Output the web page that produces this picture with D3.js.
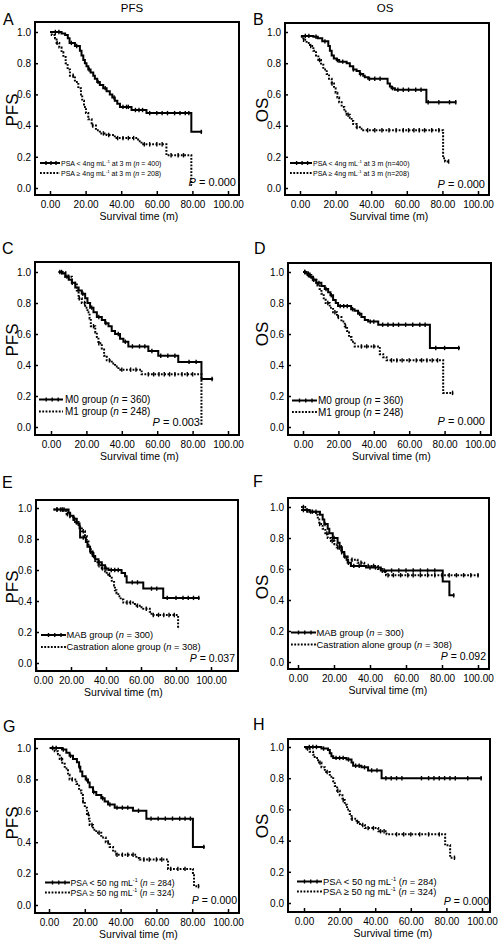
<!DOCTYPE html>
<html><head><meta charset="utf-8">
<script src="https://cdn.jsdelivr.net/npm/d3@7"></script>
<style>
body{margin:0;background:#fff}
svg{display:block}
text{font-family:"Liberation Sans",Arial,sans-serif;fill:#000}
</style>
</head><body>
<svg id="c" width="500" height="944"></svg>
<script>
// ---------- DATA (time in months, survival probability) ----------
const xTicks = [0, 20, 40, 60, 80, 100];
const yTicks = [0, 0.2, 0.4, 0.6, 0.8, 1.0];
const columnTitles = ["PFS", "OS"];
const panelIds = ["A","B","C","D","E","F","G","H"];
const yTitles = ["PFS","OS","PFS","OS","PFS","OS","PFS","OS"];
const pValues = ["0.000","0.000","0.003","0.000","0.037","0.092","0.000","0.000"];
const legendSolid = [
  "PSA < 4ng mL^{-1} at 3 m (_n_ = 400)", "PSA < 4ng mL^{-1} at 3 m (n=400)",
  "M0 group (_n_ = 360)", "M0 group (_n_ = 360)",
  "MAB group (_n_ = 300)", "MAB group (_n_ = 300)",
  "PSA < 50 ng mL^{-1} (_n_ = 284)", "PSA < 50 ng mL^{-1} (_n_ = 284)"];
const legendDotted = [
  "PSA ≥ 4ng mL^{-1} at 3 m (_n_ = 208)", "PSA ≥ 4ng mL^{-1} at 3 m (n=208)",
  "M1 group (_n_ = 248)", "M1 group (_n_ = 248)",
  "Castration alone group (_n_ = 308)", "Castration alone group (_n_ = 308)",
  "PSA ≥ 50 ng mL^{-1} (_n_ = 324)", "PSA ≥ 50 ng mL^{-1} (_n_ = 324)"];

// Step curves: [time, survival] (last pair = end of follow-up)
const A_solid = [[0,1.0],[6.5,0.99],[8.5,0.98],[10,0.96],[11,0.93],[14,0.91],[16.8,0.88],[17.7,0.85],[18.7,0.82],[19.6,0.80],[20.5,0.78],[21.5,0.76],[22.8,0.74],[24.3,0.72],[25.2,0.70],[26.5,0.68],[28,0.66],[29.9,0.64],[31.8,0.62],[33.6,0.60],[35,0.58],[36.4,0.56],[37.8,0.54],[39.3,0.52],[45.8,0.50],[54.2,0.48],[79.4,0.36],[85.5,0.36]];
const A_dotted = [[0,1.0],[1,0.98],[2.8,0.96],[3.7,0.93],[5.2,0.90],[6.5,0.87],[7.5,0.84],[8.8,0.80],[9.9,0.76],[11.2,0.72],[14,0.68],[15.9,0.64],[17.4,0.60],[18.1,0.56],[19.1,0.52],[20.2,0.48],[21.5,0.44],[23.4,0.40],[25.8,0.37],[28,0.35],[31.8,0.34],[36.4,0.32],[49.5,0.30],[51.4,0.28],[65.4,0.21],[79.4,0.02],[79.7,0.02]];
const B_solid = [[0.5,0.975],[7.5,0.97],[10,0.96],[12.5,0.94],[15.9,0.91],[16.8,0.88],[17.8,0.85],[19,0.83],[20.6,0.82],[22,0.81],[26.2,0.80],[28,0.78],[29.9,0.76],[31.8,0.75],[33.6,0.73],[35.5,0.72],[36.4,0.71],[38.3,0.70],[49.2,0.67],[50.5,0.65],[51.4,0.64],[53.3,0.63],[71,0.55],[87.9,0.55]];
const B_dotted = [[0.5,0.97],[1.9,0.95],[3.7,0.93],[5.6,0.91],[7.5,0.88],[9,0.85],[10.3,0.82],[11.8,0.79],[13.1,0.76],[15,0.73],[16.3,0.70],[17.8,0.67],[19.1,0.64],[20,0.61],[21,0.58],[22,0.55],[23.4,0.52],[24.9,0.49],[26.2,0.47],[28,0.45],[29,0.43],[29.9,0.41],[31.8,0.39],[33.6,0.38],[35.5,0.37],[80.4,0.19],[81.5,0.17],[84,0.17]];
const C_solid = [[4.3,1.0],[6.2,0.99],[8.1,0.97],[10,0.95],[11.8,0.93],[13.7,0.90],[15.6,0.88],[17.4,0.86],[19.3,0.83],[20.6,0.80],[22.1,0.77],[24,0.74],[25.9,0.71],[28.7,0.69],[30.6,0.67],[32.5,0.65],[34.3,0.62],[36.2,0.60],[39,0.57],[40.9,0.55],[43.7,0.52],[55,0.49],[60.6,0.46],[71.9,0.42],[85,0.31],[91.6,0.31]];
const C_dotted = [[4.3,1.0],[8.1,0.97],[11.8,0.93],[14.6,0.88],[15.6,0.83],[17.4,0.80],[19.3,0.77],[20.6,0.74],[21.8,0.70],[22.5,0.65],[25,0.61],[25.9,0.58],[26.8,0.54],[28.7,0.50],[30,0.46],[31.5,0.43],[34.3,0.41],[36.2,0.39],[38.1,0.37],[51.2,0.34],[85,0.01],[85.2,0.01]];
const D_solid = [[0,1.0],[1.9,0.99],[3.8,0.97],[5.7,0.95],[7.5,0.93],[10.4,0.91],[12.3,0.89],[14.2,0.87],[15.5,0.85],[17,0.82],[18.5,0.80],[19.8,0.78],[27.2,0.76],[29.1,0.75],[31.1,0.73],[33,0.71],[34.9,0.69],[36.8,0.68],[42.5,0.66],[71.7,0.51],[88.7,0.51]];
const D_dotted = [[0,1.0],[1.9,0.98],[4.7,0.95],[7.5,0.92],[9.4,0.89],[10.4,0.86],[11.7,0.83],[12.8,0.80],[15.1,0.77],[17,0.74],[19.2,0.71],[21.7,0.68],[23.6,0.65],[24.9,0.62],[26,0.58],[27.4,0.55],[29.2,0.52],[43.4,0.47],[45.3,0.45],[47.2,0.43],[79.2,0.22],[84.9,0.22]];
const E_solid = [[10,0.99],[18.6,0.97],[19.5,0.95],[21.4,0.93],[23.3,0.90],[24.9,0.87],[25.2,0.81],[28.5,0.78],[29.4,0.75],[30.9,0.72],[32.4,0.69],[33.8,0.67],[35.7,0.65],[37.6,0.63],[39.5,0.61],[41.4,0.60],[48.9,0.58],[50.9,0.56],[51.8,0.52],[61.3,0.48],[72.7,0.42],[93.5,0.42]];
const E_dotted = [[10,0.99],[15.6,0.98],[17.5,0.96],[19.5,0.94],[21.4,0.91],[24.3,0.88],[26.2,0.85],[28,0.82],[29,0.79],[30,0.75],[31.3,0.71],[32.8,0.68],[33.8,0.65],[35.7,0.63],[37.6,0.61],[39.5,0.59],[40.4,0.57],[42.3,0.55],[43.3,0.53],[44.6,0.50],[45.1,0.47],[46,0.45],[47,0.43],[48.4,0.41],[49.9,0.39],[56.5,0.37],[60.3,0.36],[61.3,0.35],[65,0.33],[66,0.31],[81.2,0.22],[81.4,0.22]];
const F_solid = [[1.7,0.98],[6.3,0.97],[12.2,0.95],[13.7,0.92],[14.6,0.89],[16.5,0.86],[17.4,0.83],[19.3,0.80],[22,0.77],[23.1,0.74],[24.4,0.71],[25.7,0.68],[27,0.66],[27.6,0.64],[29.4,0.62],[37.8,0.61],[46,0.59],[80.4,0.52],[84.1,0.43],[86.9,0.43]];
const F_dotted = [[1.7,1.0],[4.6,0.97],[10,0.95],[11,0.92],[11.8,0.89],[13.7,0.86],[15.2,0.83],[16.5,0.80],[18.3,0.78],[20.2,0.76],[21.5,0.74],[23,0.72],[24.4,0.70],[25.7,0.68],[27.6,0.66],[33.1,0.64],[36.8,0.62],[44.4,0.60],[47,0.58],[48.9,0.56],[100.7,0.56]];
const G_solid = [[0.4,1.0],[7.3,0.99],[9.7,0.97],[11.5,0.95],[13.4,0.93],[15.6,0.91],[16.8,0.88],[17.5,0.85],[18.6,0.82],[20.5,0.80],[21.8,0.78],[22.7,0.75],[24.6,0.72],[26.4,0.70],[29.2,0.68],[31.1,0.66],[33,0.64],[36.7,0.62],[46.9,0.60],[54.4,0.55],[80.4,0.37],[87,0.37]];
const G_dotted = [[0.4,1.0],[3.2,0.98],[5,0.96],[6,0.93],[7.4,0.90],[8.8,0.87],[10.6,0.83],[11.5,0.80],[15.3,0.77],[16.8,0.73],[18.1,0.70],[19,0.66],[20,0.62],[21.2,0.58],[22.3,0.55],[22.7,0.51],[24.6,0.48],[26.4,0.46],[29.2,0.43],[31.7,0.40],[33.9,0.37],[35.8,0.34],[37.6,0.32],[48.8,0.30],[50.6,0.29],[66.5,0.23],[80.4,0.19],[81,0.12],[84,0.12]];
const H_solid = [[0,1.0],[9.8,0.99],[13.5,0.98],[14.5,0.96],[15.4,0.94],[16.4,0.93],[23.9,0.92],[26.7,0.90],[27.6,0.88],[32.3,0.87],[36,0.85],[43.6,0.80],[100,0.80]];
const H_dotted = [[0,1.0],[1.3,0.99],[3.2,0.97],[5.1,0.95],[6,0.93],[7.9,0.90],[9.8,0.87],[11.7,0.84],[14.5,0.81],[16.4,0.78],[17.3,0.75],[18.6,0.72],[20.1,0.69],[21.6,0.66],[22.9,0.63],[24.2,0.60],[25.7,0.57],[26.7,0.54],[29.5,0.52],[31.4,0.50],[34.2,0.48],[41.7,0.46],[46.4,0.44],[79.3,0.37],[82.1,0.29],[85,0.29]];

// Censored observation times
const A_solid_c = [3,5,12,15,22,27,31,36,41,43,44,48,50,52,56,60,63,66,70,73,76,78,85];
const A_dotted_c = [4,13,24,30,33,38,41,44,47,53,56,60,63,68,72,75];
const B_solid_c = [3,5,9,14,21,24,30,34,39,42,45,52,55,58,61,65,68,72,78,84,87.5];
const B_dotted_c = [2,6,11,18,27,32,38,42,46,50,54,58,61,64,67,70,74,78,83.5];
const C_solid_c = [5,9,12,18,23,27,31,38,42,46,50,53,57,62,66,70,78,82,91];
const C_dotted_c = [6,10,16,19,24,27,33,40,45,48,55,58,61,64,67,70,74,77,80];
const D_solid_c = [1,3,6,9,13,16,21,23,25,28,32,38,40,45,48,51,54,58,62,66,69,75,80,88];
const D_dotted_c = [1,3,6,8,14,18,20,24,33,36,40,50,53,56,60,64,67,70,73,76,84.5];
const E_solid_c = [12,14,16,22,27,33,36,40,43,45,47,55,58,66,69,75,80,84,87,90,93];
const E_dotted_c = [12,15,18,23,27,32,36,38,42,52,54,58,63,67,70,73,76,79];
const F_solid_c = [3,5,8,10,15,20,24,28,31,34,40,43,48,52,56,60,64,68,72,76,86.5];
const F_dotted_c = [3,7,12,16,19,22,26,30,35,39,42,50,53,57,61,64,68,72,76,80,84,88,92,96,100];
const G_solid_c = [2,4,8,12,17,21,25,30,34,38,41,44,50,57,61,65,69,73,76,79,86.5];
const G_dotted_c = [2,7,13,19,22,24,28,33,38,41,44,47,53,56,60,63,68,72,76,83.5];
const H_solid_c = [3,5,7,11,18,20,22,25,29,31,34,38,41,46,49,52,55,66,70,73,76,79,82,85,92,99.5];
const H_dotted_c = [2,9,13,19,22,27,30,33,36,39,43,45,52,56,60,65,70,76,84.5];

const solidCurves = [A_solid,B_solid,C_solid,D_solid,E_solid,F_solid,G_solid,H_solid];
const dottedCurves = [A_dotted,B_dotted,C_dotted,D_dotted,E_dotted,F_dotted,G_dotted,H_dotted];
const solidCens = [A_solid_c,B_solid_c,C_solid_c,D_solid_c,E_solid_c,F_solid_c,G_solid_c,H_solid_c];
const dottedCens = [A_dotted_c,B_dotted_c,C_dotted_c,D_dotted_c,E_dotted_c,F_dotted_c,G_dotted_c,H_dotted_c];

// ---------- LAYOUT ----------
const L = [
 {f:[35,22,239,195], x:[50,228], y:[188,32], letter:[3,25], yt:[12,110], leg:{x1:40,x2:60,y1:163,y2:173,tx:61,fs:7}, p:[236,186,11]},
 {f:[285,23,489,195], x:[300,478], y:[188,32], letter:[253,25], yt:[262,110], leg:{x1:290,x2:312,y1:163,y2:173,tx:313,fs:7}, p:[485,188,11]},
 {f:[35,262,239,435], x:[51,228], y:[427,272], letter:[2,254], yt:[12,340], leg:{x1:39,x2:63,y1:399.5,y2:411.5,tx:65,fs:10}, p:[200,426,11]},
 {f:[288,263,491,435], x:[303,480], y:[427,272], letter:[254,254], yt:[262,334], leg:{x1:292,x2:317,y1:400.5,y2:412,tx:318,fs:10}, p:[485,425,11]},
 {f:[36,500,238,671], x:[36,211], y:[663,508], letter:[2,488], yt:[12,587], leg:{x1:41,x2:66,y1:635,y2:647,tx:66.5,fs:9.3}, p:[235,662,10.5], zeroShift:7},
 {f:[288,498,489,669], x:[298,478], y:[662,507], letter:[253,487], yt:[262,587], leg:{x1:291,x2:316,y1:632.5,y2:644.5,tx:316.5,fs:9.4}, p:[486,659.5,10.5]},
 {f:[35,739,239,913], x:[49,228], y:[905,748], letter:[3,732], yt:[12,823], leg:{x1:45,x2:70,y1:882.5,y2:892.5,tx:70.5,fs:8.6}, p:[237,904,10.5]},
 {f:[288,739,490,912], x:[304,482], y:[903,747], letter:[253,730], yt:[262,826], leg:{x1:297,x2:322,y1:881.5,y2:891.5,tx:323,fs:9.4}, p:[489,905,10.5]}
];

const svg = d3.select('#c');
const DASH = "1.8,1.5";

// column titles
svg.append('text').attr('x',132).attr('y',12.3).attr('text-anchor','middle').attr('font-size',11.5).text(columnTitles[0]);
svg.append('text').attr('x',385).attr('y',12.3).attr('text-anchor','middle').attr('font-size',11.5).text(columnTitles[1]);

function rich(textSel, str, fs){
  const parts = str.split(/(\^\{[^}]*\}|_[^_]*_)/g).filter(s=>s.length);
  let shifted = 0;
  parts.forEach(p=>{
    const t = textSel.append('tspan');
    if(p.startsWith('^{')){
      t.attr('font-size', fs*0.62).attr('dy', -fs*0.38).text(p.slice(2,-1));
      shifted = fs*0.38;
    } else if(p.startsWith('_')){
      t.attr('font-style','italic').text(p.slice(1,-1));
      if(shifted){ t.attr('dy', shifted); shifted = 0; }
    } else {
      t.text(p);
      if(shifted){ t.attr('dy', shifted); shifted = 0; }
    }
  });
}

function valueAt(curve, t){
  let v = curve[0][1];
  for(const [ti,si] of curve){ if(ti<=t) v = si; else break; }
  return v;
}

panelIds.forEach((id,i)=>{
  const lay = L[i];
  const g = svg.append('g');
  const x = d3.scaleLinear().domain([0,100]).range(lay.x);
  const y = d3.scaleLinear().domain([0,1]).range(lay.y);
  const [fl,ft,fr,fb] = lay.f;

  // axes (ticks point inward)
  const xa = g.append('g').attr('transform',`translate(0,${fb})`)
    .call(d3.axisBottom(x).tickValues(xTicks).tickFormat(d3.format('.2f')).tickSize(-4).tickPadding(6));
  const ya = g.append('g').attr('transform',`translate(${fl},0)`)
    .call(d3.axisLeft(y).tickValues(yTicks).tickFormat(d3.format('.1f')).tickSize(-3).tickPadding(4));
  [xa,ya].forEach(a=>{
    a.select('.domain').remove();
    a.selectAll('line').attr('stroke','#000').attr('stroke-width',1.5);
    a.selectAll('text').attr('font-size',10).attr('font-family','"Liberation Sans",Arial,sans-serif').attr('fill','#222');
  });
  if(lay.zeroShift){
    xa.selectAll('.tick').filter(d=>d===0).select('text').attr('dx', lay.zeroShift);
  }

  // frame
  g.append('rect').attr('x',fl).attr('y',ft).attr('width',fr-fl).attr('height',fb-ft)
    .attr('fill','none').attr('stroke','#000').attr('stroke-width',2);

  const line = d3.line().x(d=>x(d[0])).y(d=>y(d[1])).curve(d3.curveStepAfter);

  // curves
  g.append('path').attr('d', line(solidCurves[i])).attr('fill','none').attr('stroke','#000').attr('stroke-width',2);
  g.append('path').attr('d', line(dottedCurves[i])).attr('fill','none').attr('stroke','#000').attr('stroke-width',2).attr('stroke-dasharray',DASH);

  // censor marks
  const cens = (curve, times) => {
    g.selectAll(null).data(times).enter().append('line')
      .attr('x1',d=>x(d)).attr('x2',d=>x(d))
      .attr('y1',d=>y(valueAt(curve,d))-2.2).attr('y2',d=>y(valueAt(curve,d))+2.2)
      .attr('stroke','#000').attr('stroke-width',1.4);
  };
  cens(solidCurves[i], solidCens[i]);
  cens(dottedCurves[i], dottedCens[i]);

  // panel letter
  g.append('text').attr('x',lay.letter[0]).attr('y',lay.letter[1]).attr('font-size',16).text(id);
  // y title
  g.append('text').attr('transform',`translate(${lay.yt[0]},${lay.yt[1]}) rotate(-90)`)
    .attr('text-anchor','middle').attr('dy','0.36em').attr('font-size',17).text(yTitles[i]);
  // x title
  g.append('text').attr('x',(lay.x[0]+lay.x[1])/2).attr('y',fb+25).attr('text-anchor','middle').attr('font-size',10.5).attr('fill','#222').text('Survival time (m)');

  // legend
  const lg = lay.leg;
  g.append('line').attr('x1',lg.x1).attr('x2',lg.x2).attr('y1',lg.y1).attr('y2',lg.y1).attr('stroke','#000').attr('stroke-width',2);
  [0.3,0.55,0.8].forEach(f=>{
    const cx = lg.x1 + (lg.x2-lg.x1)*f;
    g.append('line').attr('x1',cx).attr('x2',cx).attr('y1',lg.y1-2).attr('y2',lg.y1+2).attr('stroke','#000').attr('stroke-width',1.4);
  });
  g.append('line').attr('x1',lg.x1).attr('x2',lg.x2).attr('y1',lg.y2).attr('y2',lg.y2).attr('stroke','#000').attr('stroke-width',2).attr('stroke-dasharray',DASH);
  const t1 = g.append('text').attr('x',lg.tx).attr('y',lg.y1 + lg.fs*0.36).attr('font-size',lg.fs).attr('fill','#222');
  rich(t1, legendSolid[i], lg.fs);
  const t2 = g.append('text').attr('x',lg.tx).attr('y',lg.y2 + lg.fs*0.36).attr('font-size',lg.fs).attr('fill','#222');
  rich(t2, legendDotted[i], lg.fs);

  // P value
  const pt = g.append('text').attr('x',lay.p[0]).attr('y',lay.p[1]).attr('text-anchor','end').attr('font-size',lay.p[2]).attr('fill','#222');
  pt.append('tspan').attr('font-style','italic').text('P');
  pt.append('tspan').text(' = ' + pValues[i]);
});
</script>
</body></html>
